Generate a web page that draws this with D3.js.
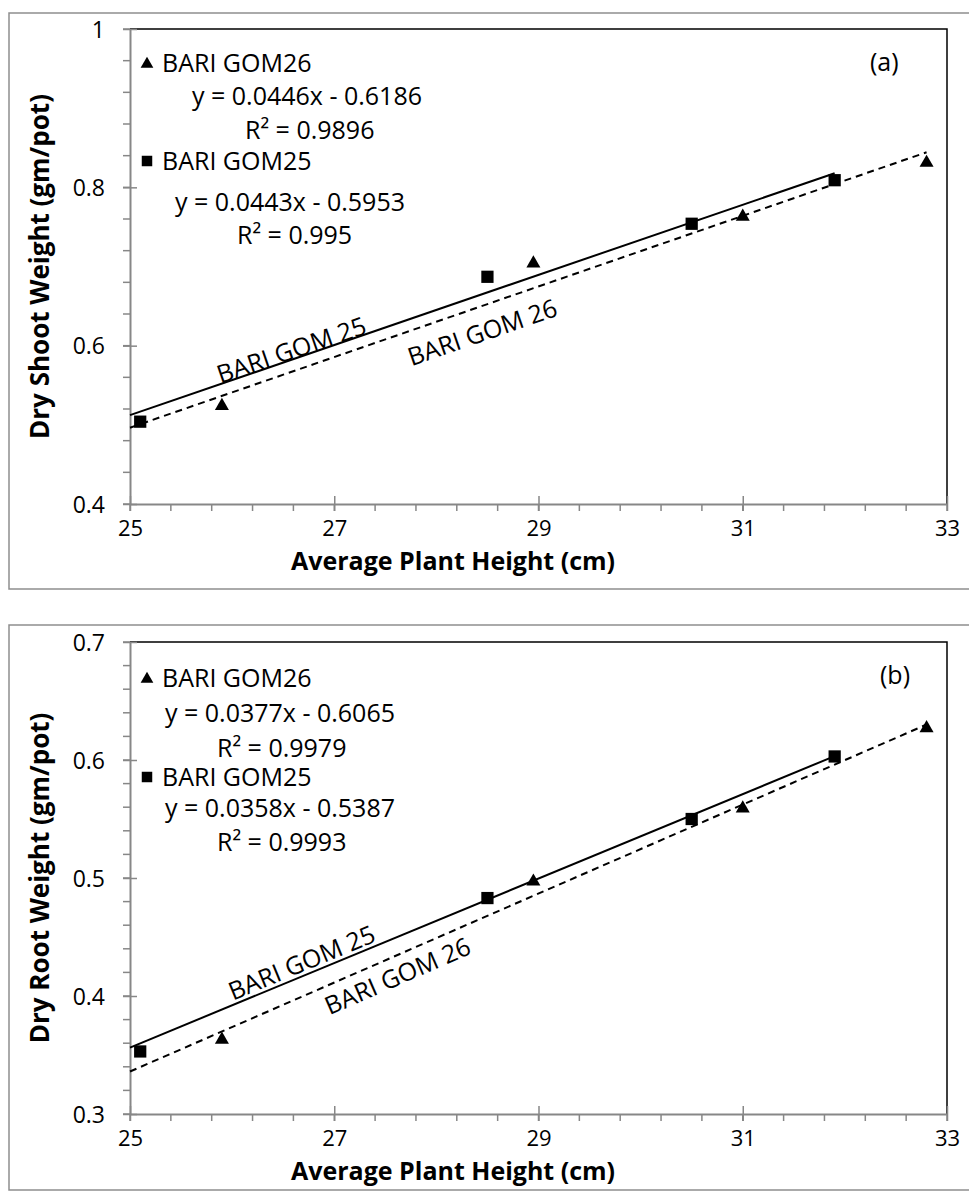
<!DOCTYPE html>
<html>
<head>
<meta charset="utf-8">
<script src="https://cdn.jsdelivr.net/npm/d3@7/dist/d3.min.js"></script>
<style>
  html, body { margin: 0; padding: 0; background: #ffffff; }
  svg { display: block; }
  text { font-family: "Open Sans", "Noto Sans", sans-serif; fill: #000; }
</style>
</head>
<body>
<svg id="chart" width="969" height="1193"></svg>
<script>
// ---------------- data ----------------
const xTicks = [25, 27, 29, 31, 33];
const xTickLabels = ["25", "27", "29", "31", "33"];

const heightGOM26 = [25.9, 28.95, 31.0, 32.8];
const heightGOM25 = [25.1, 28.5, 30.5, 31.9];

// panel (a) : dry shoot weight
const shootGOM26 = [0.524, 0.704, 0.763, 0.831];
const shootGOM25 = [0.504, 0.687, 0.754, 0.809];
const shootTicks = [0.4, 0.6, 0.8, 1];
const shootTickLabels = ["0.4", "0.6", "0.8", "1"];
const shootFitGOM26 = [0.0446, -0.6186]; // slope, intercept
const shootFitGOM25 = [0.0443, -0.5953];
const shootEqGOM26 = ["y = 0.0446x - 0.6186", "R\u00B2 = 0.9896"];
const shootEqGOM25 = ["y = 0.0443x - 0.5953", "R\u00B2 = 0.995"];

// panel (b) : dry root weight
const rootGOM26 = [0.363, 0.497, 0.559, 0.627];
const rootGOM25 = [0.353, 0.483, 0.550, 0.603];
const rootTicks = [0.3, 0.4, 0.5, 0.6, 0.7];
const rootTickLabels = ["0.3", "0.4", "0.5", "0.6", "0.7"];
const rootFitGOM26 = [0.0377, -0.6065];
const rootFitGOM25 = [0.0358, -0.5387];
const rootEqGOM26 = ["y = 0.0377x - 0.6065", "R\u00B2 = 0.9979"];
const rootEqGOM25 = ["y = 0.0358x - 0.5387", "R\u00B2 = 0.9993"];

// trend line x extents
const trendXGOM26 = [25, 32.8];
const trendXGOM25 = [25, 31.9];

const seriesNames = ["BARI GOM26", "BARI GOM25"];
const lineLabels = ["BARI GOM 25", "BARI GOM 26"];

// ---------------- drawing ----------------
const svg = d3.select("#chart");
const AX = "#878787";
const FS = 25;

const x = d3.scaleLinear().domain([25, 33]).range([130, 947]);

function panel(cfg) {
  const g = svg.append("g");
  const y = d3.scaleLinear().domain(cfg.yDomain).range([cfg.bottom, cfg.top]);

  // outer chart frame
  g.append("path")
    .attr("d", `M975,${cfg.frameTop}H9V${cfg.frameBottom}H975`)
    .attr("fill", "none").attr("stroke", "#8e8e8e").attr("stroke-width", 1.5);

  // plot area border (top, right)
  g.append("path")
    .attr("d", `M${x(25)},${y(cfg.yDomain[1])}H${x(33)}V${y(cfg.yDomain[0])}`)
    .attr("fill", "none").attr("stroke", "#000").attr("stroke-width", 1.5);

  // minor ticks
  const yMinor = d3.range(cfg.yDomain[0], cfg.yDomain[1] + 1e-9, cfg.yMinor);
  g.append("g").selectAll("line").data(yMinor).join("line")
    .attr("x1", x(25) - 7).attr("x2", x(25))
    .attr("y1", d => y(d)).attr("y2", d => y(d))
    .attr("stroke", AX).attr("stroke-width", 1.5);
  const xMinor = d3.range(25, 33 + 1e-9, 0.4);
  g.append("g").selectAll("line").data(xMinor).join("line")
    .attr("x1", d => x(d)).attr("x2", d => x(d))
    .attr("y1", cfg.bottom).attr("y2", cfg.bottom + 7)
    .attr("stroke", AX).attr("stroke-width", 1.5);

  // y axis
  const yAxis = d3.axisLeft(y).tickValues(cfg.yTicks)
    .tickFormat((d, i) => cfg.yTickLabels[i]).tickSizeInner(7).tickSizeOuter(0).tickPadding(18);
  const ya = g.append("g").attr("transform", `translate(${x(25)},0)`).call(yAxis);
  ya.select(".domain").attr("stroke", AX).attr("stroke-width", 2);
  ya.selectAll(".tick line").attr("stroke", AX).attr("stroke-width", 1.5).attr("x2", -7).attr("x1", 7);
  ya.selectAll(".tick text").attr("font-size", 23).attr("font-family", "Open Sans").attr("fill", "#000").attr("dy", "0.36em");

  // x axis
  const xAxis = d3.axisBottom(x).tickValues(xTicks)
    .tickFormat((d, i) => xTickLabels[i]).tickSizeInner(7).tickSizeOuter(0);
  const xa = g.append("g").attr("transform", `translate(0,${cfg.bottom})`).call(xAxis);
  xa.select(".domain").attr("stroke", AX).attr("stroke-width", 2);
  xa.selectAll(".tick line").attr("stroke", AX).attr("stroke-width", 1.5).attr("y1", -8).attr("y2", 7);
  xa.selectAll(".tick text").attr("font-size", 22).attr("font-family", "Open Sans").attr("fill", "#000")
    .attr("y", 24).attr("dy", "0.36em");

  // axis titles
  g.append("text").attr("x", 453).attr("y", cfg.bottom + 57).attr("dy", "0.36em")
    .attr("text-anchor", "middle").attr("font-size", 25).attr("font-weight", "bold")
    .text("Average Plant Height (cm)");
  g.append("text")
    .attr("transform", `translate(49,${(cfg.top + cfg.bottom) / 2}) rotate(-90)`)
    .attr("text-anchor", "middle").attr("font-size", 26).attr("font-weight", "bold")
    .text(cfg.yTitle);

  // trend lines
  const trend = (fit, xs) => xs.map(v => [x(v), y(fit[0] * v + fit[1])]);
  const line = d3.line();
  g.append("path").attr("d", line(trend(cfg.fit25, trendXGOM25)))
    .attr("fill", "none").attr("stroke", "#000").attr("stroke-width", 2);
  g.append("path").attr("d", line(trend(cfg.fit26, trendXGOM26)))
    .attr("fill", "none").attr("stroke", "#000").attr("stroke-width", 2)
    .attr("stroke-dasharray", "7,5");

  // points
  const tri = d3.symbol().type(d3.symbolTriangle).size(85);
  const sq = d3.symbol().type(d3.symbolSquare).size(150);
  g.append("g").selectAll("path").data(heightGOM26).join("path")
    .attr("d", tri).attr("transform", (d, i) => `translate(${x(d)},${y(cfg.v26[i])})`).attr("fill", "#000");
  g.append("g").selectAll("path").data(heightGOM25).join("path")
    .attr("d", sq).attr("transform", (d, i) => `translate(${x(d)},${y(cfg.v25[i])})`).attr("fill", "#000");

  // rotated line labels
  const ang = fit => -Math.atan((y(0) - y(fit[0])) / (x(1) - x(0))) * 180 / Math.PI;
  [[lineLabels[0], cfg.lab25, cfg.fit25], [lineLabels[1], cfg.lab26, cfg.fit26]].forEach(([t, p, fit]) => {
    g.append("text")
      .attr("transform", `translate(${x(p[0])},${y(p[1])}) rotate(${ang(fit)})`)
      .attr("text-anchor", "middle").attr("dy", "0.36em").attr("font-size", FS).text(t);
  });

  // legend + equations
  const L = cfg.legend;
  g.append("path").attr("d", d3.symbol().type(d3.symbolTriangle).size(70))
    .attr("transform", `translate(147,${L.s26 + 1})`).attr("fill", "#000");
  g.append("path").attr("d", d3.symbol().type(d3.symbolSquare).size(110))
    .attr("transform", `translate(147,${L.s25})`).attr("fill", "#000");
  const txt = (tx, ty, s) => g.append("text").attr("x", tx).attr("y", ty)
    .attr("dy", "0.36em").attr("font-size", FS).text(s);
  txt(162, L.s26, seriesNames[0]);
  txt(L.e26x, L.e26y, cfg.eq26[0]);
  txt(L.r26x, L.r26y, cfg.eq26[1]);
  txt(162, L.s25, seriesNames[1]);
  txt(L.e25x, L.e25y, cfg.eq25[0]);
  txt(L.r25x, L.r25y, cfg.eq25[1]);
  txt(L.tagX, L.tagY, cfg.tag);
}

panel({
  yDomain: [0.4, 1], top: 29, bottom: 504, frameTop: 13, frameBottom: 589,
  yMinor: 0.04, yTicks: shootTicks, yTickLabels: shootTickLabels,
  yTitle: "Dry Shoot Weight (gm/pot)",
  v26: shootGOM26, v25: shootGOM25, fit26: shootFitGOM26, fit25: shootFitGOM25,
  eq26: shootEqGOM26, eq25: shootEqGOM25,
  lab25: [26.58, 0.5946], lab26: [28.45, 0.617],
  tag: "(a)",
  legend: { s26: 63, e26x: 192, e26y: 96, r26x: 245, r26y: 130, s25: 161,
            e25x: 175, e25y: 202, r25x: 237, r25y: 235, tagX: 870, tagY: 62 }
});

panel({
  yDomain: [0.3, 0.7], top: 642, bottom: 1114, frameTop: 625, frameBottom: 1190,
  yMinor: 0.02, yTicks: rootTicks, yTickLabels: rootTickLabels,
  yTitle: "Dry Root Weight (gm/pot)",
  v26: rootGOM26, v25: rootGOM25, fit26: rootFitGOM26, fit25: rootFitGOM25,
  eq26: rootEqGOM26, eq25: rootEqGOM25,
  lab25: [26.68, 0.4284], lab26: [27.62, 0.417],
  tag: "(b)",
  legend: { s26: 678, e26x: 165, e26y: 713, r26x: 217, r26y: 748, s25: 777,
            e25x: 165, e25y: 808, r25x: 217, r25y: 842, tagX: 880, tagY: 675 }
});
</script>
</body>
</html>
